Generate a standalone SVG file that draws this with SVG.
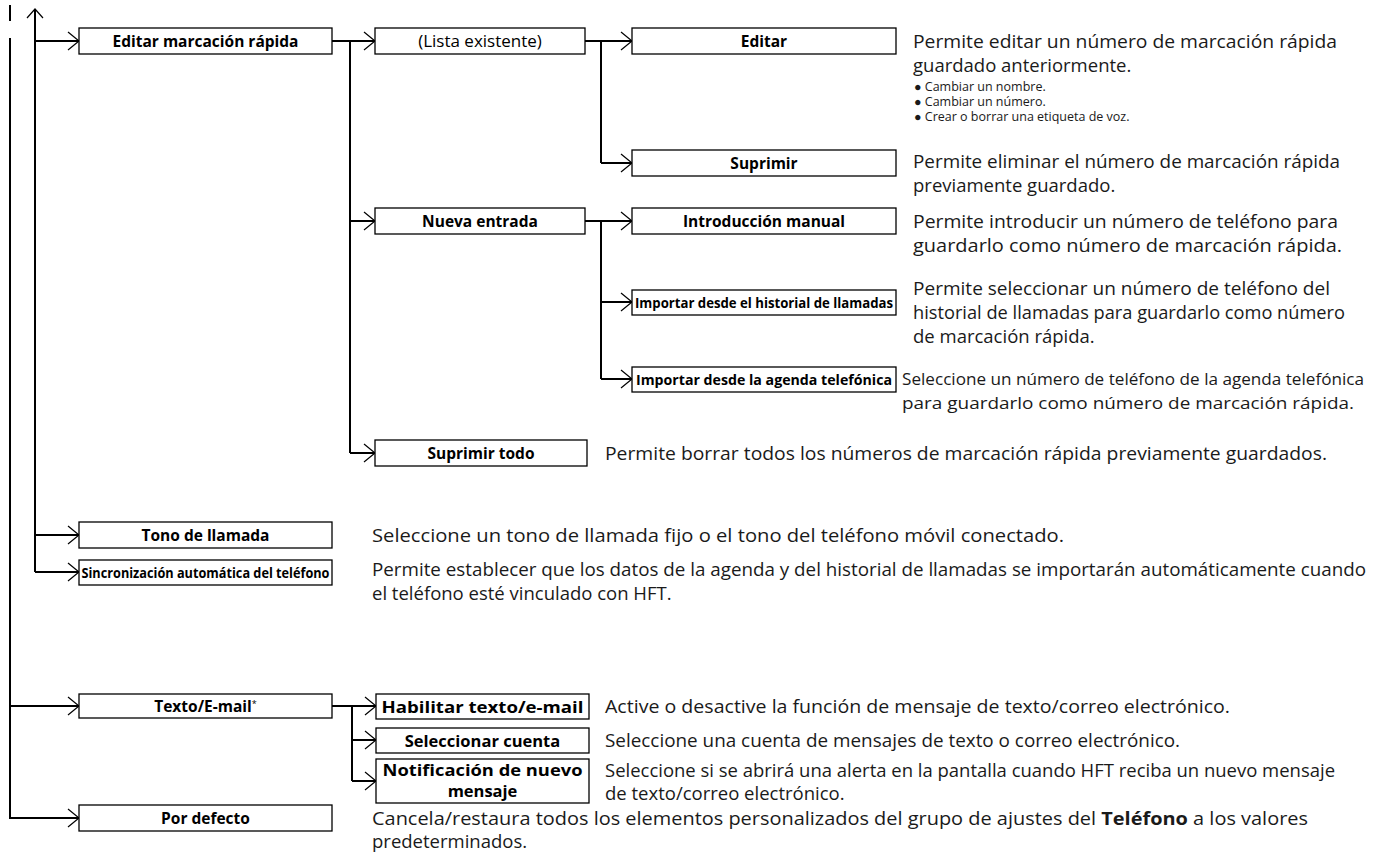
<svg xmlns="http://www.w3.org/2000/svg" width="1377" height="853" viewBox="0 0 1377 853">
<style>
.bg{fill:#fff}
.box{fill:#fff;stroke:#000;stroke-width:1.3}
.ln{fill:none;stroke:#000;stroke-width:2}
.ah{fill:none;stroke:#000;stroke-width:1.2}
.lb{font-family:"Open Sans","Noto Sans",sans-serif;font-weight:bold;font-size:15.5px;fill:#000;text-anchor:middle}
.lbl{font-family:"Open Sans","Noto Sans",sans-serif;font-weight:bold;font-size:16.5px;fill:#000;text-anchor:middle}
.lbn{font-family:"Open Sans","Noto Sans",sans-serif;font-weight:normal;font-size:17px;fill:#000;text-anchor:middle}
.lbc{font-family:"Open Sans","Noto Sans",sans-serif;font-weight:bold;font-size:13.5px;fill:#000;text-anchor:middle}
.d{font-family:"Open Sans","Noto Sans",sans-serif;font-size:18.5px;fill:#1a1a1a}
.dc{font-family:"Open Sans","Noto Sans",sans-serif;font-size:17px;fill:#1a1a1a}
.s{font-family:"Open Sans","Noto Sans",sans-serif;font-size:12.5px;fill:#1a1a1a}
</style>
<defs>
<path id="arr" d="M-11,-9 L0,0 L-11,9" class="ah"/>
</defs>
<rect class="bg" width="1377" height="853"/>

<g id="connectors">
<line class="ln" x1="10" y1="5" x2="10" y2="21"/>
<polyline class="ln" points="10,38 10,818 79,818"/>
<line class="ln" x1="10" y1="706" x2="79" y2="706"/>
<line class="ln" x1="35" y1="9" x2="35" y2="572"/>
<path class="ah" d="M27,18 L35,9 L43,18"/>
<line class="ln" x1="35" y1="41" x2="79" y2="41"/>
<line class="ln" x1="35" y1="535" x2="79" y2="535"/>
<line class="ln" x1="35" y1="572" x2="79" y2="572"/>
<line class="ln" x1="332" y1="41" x2="375" y2="41"/>
<line class="ln" x1="350" y1="41" x2="350" y2="453"/>
<line class="ln" x1="350" y1="221" x2="375" y2="221"/>
<line class="ln" x1="350" y1="453" x2="375" y2="453"/>
<line class="ln" x1="585" y1="41" x2="632" y2="41"/>
<line class="ln" x1="601" y1="41" x2="601" y2="163"/>
<line class="ln" x1="601" y1="163" x2="632" y2="163"/>
<line class="ln" x1="585" y1="221" x2="632" y2="221"/>
<line class="ln" x1="601" y1="221" x2="601" y2="379"/>
<line class="ln" x1="601" y1="302" x2="632" y2="302"/>
<line class="ln" x1="601" y1="379" x2="632" y2="379"/>
<line class="ln" x1="332" y1="706" x2="376" y2="706"/>
<line class="ln" x1="352" y1="706" x2="352" y2="781"/>
<line class="ln" x1="352" y1="740" x2="376" y2="740"/>
<line class="ln" x1="352" y1="781" x2="376" y2="781"/>
<use href="#arr" x="79" y="41"/>
<use href="#arr" x="375" y="41"/>
<use href="#arr" x="632" y="41"/>
<use href="#arr" x="632" y="163"/>
<use href="#arr" x="375" y="221"/>
<use href="#arr" x="632" y="221"/>
<use href="#arr" x="632" y="302"/>
<use href="#arr" x="632" y="379"/>
<use href="#arr" x="375" y="453"/>
<use href="#arr" x="79" y="535"/>
<use href="#arr" x="79" y="572"/>
<use href="#arr" x="79" y="706"/>
<use href="#arr" x="376" y="706"/>
<use href="#arr" x="376" y="740"/>
<use href="#arr" x="376" y="781"/>
<use href="#arr" x="79" y="818"/>
</g>

<g id="n-editar-marcacion"><rect class="box" x="79" y="28" width="253" height="26"/><text class="lb" x="205.5" y="46.5">Editar marcación rápida</text></g>
<g id="n-lista"><rect class="box" x="375" y="28" width="210" height="26"/><text class="lbn" x="480" y="47">(Lista existente)</text></g>
<g id="n-editar"><rect class="box" x="632" y="28" width="264" height="26"/><text class="lb" x="764" y="46.5">Editar</text></g>
<g id="d-editar">
<text class="d" x="913" y="48" textLength="424" lengthAdjust="spacingAndGlyphs">Permite editar un número de marcación rápida</text>
<text class="d" x="913" y="72">guardado anteriormente.</text>
<text class="s" x="914" y="91">●  Cambiar un nombre.</text>
<text class="s" x="914" y="106">●  Cambiar un número.</text>
<text class="s" x="914" y="121">●  Crear o borrar una etiqueta de voz.</text>
</g>
<g id="n-suprimir"><rect class="box" x="632" y="150" width="264" height="26"/><text class="lb" x="764" y="168.5">Suprimir</text></g>
<g id="d-suprimir">
<text class="d" x="913" y="168" textLength="427" lengthAdjust="spacingAndGlyphs">Permite eliminar el número de marcación rápida</text>
<text class="d" x="913" y="192">previamente guardado.</text>
</g>
<g id="n-nueva"><rect class="box" x="375" y="208" width="210" height="26"/><text class="lb" x="480" y="226.5">Nueva entrada</text></g>
<g id="n-intro"><rect class="box" x="632" y="208" width="264" height="26"/><text class="lb" x="764" y="226.5">Introducción manual</text></g>
<g id="d-intro">
<text class="d" x="913" y="228" textLength="425" lengthAdjust="spacingAndGlyphs">Permite introducir un número de teléfono para</text>
<text class="d" x="913" y="252" textLength="429" lengthAdjust="spacingAndGlyphs">guardarlo como número de marcación rápida.</text>
</g>
<g id="n-historial"><rect class="box" x="632" y="290" width="264" height="25"/><text class="lbc" x="764" y="307.5" textLength="258" lengthAdjust="spacingAndGlyphs">Importar desde el historial de llamadas</text></g>
<g id="d-historial">
<text class="d" x="913" y="295" textLength="417" lengthAdjust="spacingAndGlyphs">Permite seleccionar un número de teléfono del</text>
<text class="d" x="913" y="319" textLength="432" lengthAdjust="spacingAndGlyphs">historial de llamadas para guardarlo como número</text>
<text class="d" x="913" y="343">de marcación rápida.</text>
</g>
<g id="n-agenda"><rect class="box" x="632" y="367" width="264" height="25"/><text class="lbc" x="764" y="384.5" textLength="256" lengthAdjust="spacingAndGlyphs">Importar desde la agenda telefónica</text></g>
<g id="d-agenda">
<text class="dc" x="902" y="385" textLength="462" lengthAdjust="spacingAndGlyphs">Seleccione un número de teléfono de la agenda telefónica</text>
<text class="dc" x="902" y="409" textLength="452" lengthAdjust="spacingAndGlyphs">para guardarlo como número de marcación rápida.</text>
</g>
<g id="n-suprimir-todo"><rect class="box" x="375" y="440" width="212" height="26"/><text class="lb" x="481" y="458.5">Suprimir todo</text></g>
<g id="d-suprimir-todo"><text class="d" x="605" y="460" textLength="722" lengthAdjust="spacingAndGlyphs">Permite borrar todos los números de marcación rápida previamente guardados.</text></g>
<g id="n-tono"><rect class="box" x="79" y="522" width="253" height="26"/><text class="lb" x="205.5" y="540.5">Tono de llamada</text></g>
<g id="d-tono"><text class="d" x="372" y="542" textLength="692" lengthAdjust="spacingAndGlyphs">Seleccione un tono de llamada fijo o el tono del teléfono móvil conectado.</text></g>
<g id="n-sincro"><rect class="box" x="79" y="560" width="253" height="25"/><text class="lbc" x="205.5" y="577.5" textLength="248" lengthAdjust="spacingAndGlyphs">Sincronización automática del teléfono</text></g>
<g id="d-sincro">
<text class="d" x="372" y="576" textLength="994" lengthAdjust="spacingAndGlyphs">Permite establecer que los datos de la agenda y del historial de llamadas se importarán automáticamente cuando</text>
<text class="d" x="372" y="600">el teléfono esté vinculado con HFT.</text>
</g>
<g id="n-texto"><rect class="box" x="79" y="694" width="253" height="24"/><text class="lb" x="205.5" y="711.5">Texto/E-mail<tspan font-size="9" font-weight="normal" dy="-5">*</tspan></text></g>
<g id="n-habilitar"><rect class="box" x="376" y="694" width="213" height="25"/><text class="lbl" x="482.5" y="712.5" textLength="202" lengthAdjust="spacingAndGlyphs">Habilitar texto/e-mail</text></g>
<g id="d-habilitar"><text class="d" x="605" y="713" textLength="625" lengthAdjust="spacingAndGlyphs">Active o desactive la función de mensaje de texto/correo electrónico.</text></g>
<g id="n-seleccionar"><rect class="box" x="376" y="728" width="213" height="25"/><text class="lbl" x="482.5" y="746.5">Seleccionar cuenta</text></g>
<g id="d-seleccionar"><text class="d" x="605" y="747" textLength="575" lengthAdjust="spacingAndGlyphs">Seleccione una cuenta de mensajes de texto o correo electrónico.</text></g>
<g id="n-notif"><rect class="box" x="376" y="759" width="213" height="44"/><text class="lbl" x="482.5" y="776" font-size="15.5" textLength="200" lengthAdjust="spacingAndGlyphs">Notificación de nuevo</text><text class="lbl" x="482.5" y="797" font-size="15.5">mensaje</text></g>
<g id="d-notif">
<text class="d" x="605" y="777" textLength="730" lengthAdjust="spacingAndGlyphs">Seleccione si se abrirá una alerta en la pantalla cuando HFT reciba un nuevo mensaje</text>
<text class="d" x="605" y="800">de texto/correo electrónico.</text>
</g>
<g id="n-defecto"><rect class="box" x="79" y="805" width="253" height="26"/><text class="lb" x="205.5" y="823.5">Por defecto</text></g>
<g id="d-defecto">
<text class="d" x="372" y="825" textLength="936" lengthAdjust="spacingAndGlyphs">Cancela/restaura todos los elementos personalizados del grupo de ajustes del <tspan font-weight="bold">Teléfono</tspan> a los valores</text>
<text class="d" x="372" y="848">predeterminados.</text>
</g>
</svg>
